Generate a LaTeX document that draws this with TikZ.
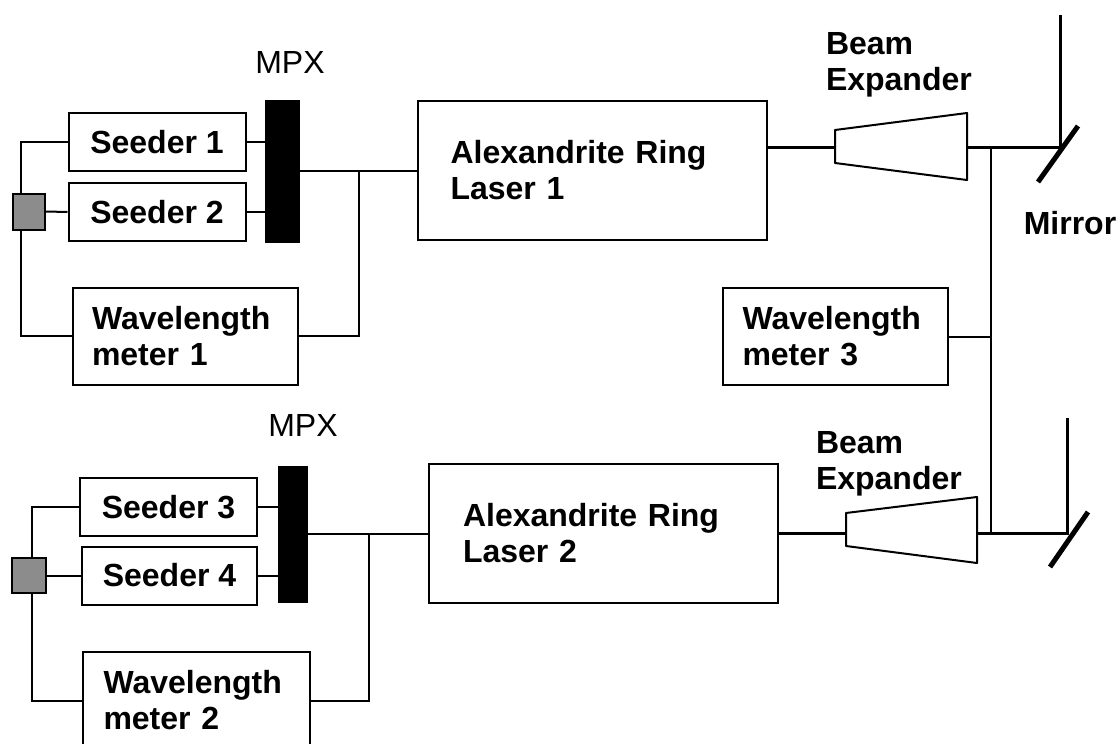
\documentclass[tikz,border=0pt]{standalone}
\usepackage{fontspec}
\setmainfont{Liberation Sans}
\begin{document}
\begin{tikzpicture}[x=1pt,y=-1pt,line width=2pt,
 font=\fontsize{32}{36}\selectfont\bfseries,
 unit/.style={draw,inner sep=0pt},
 seeder/.style={unit,minimum width=177pt,minimum height=58pt},
 meter/.style={unit,minimum width=225pt,minimum height=97pt,text width=186pt,align=left},
 laser/.style={unit,minimum width=349pt,minimum height=139pt,text width=284pt,align=left},
 mpxbar/.style={draw,fill=black,inner sep=0pt},
 coupler/.style={draw,fill=black!45,minimum width=32pt,minimum height=36pt,inner sep=0pt},
 beam/.style={line width=3pt},
 mirror/.style={line width=5pt}]
 \clip (0,0) rectangle (1117,744);
 % first laser line
 \node[seeder] (seed1) at (157,142) {Seeder 1};
 \node[seeder] (seed2) at (157,212) {Seeder 2};
 \node[mpxbar,minimum width=33pt,minimum height=141pt] (mpx1) at (282.5,171.5) {};
 \node[coupler] (sq1) at (29,211.5) {};
 \node[meter] (wm1) at (185,336) {Wavelength\\meter 1};
 \node[laser] (las1) at (592.5,170.5) {Alexandrite Ring\\Laser 1};
 \node[meter] (wm3) at (835.5,336.5) {Wavelength\\meter 3};
 % second laser line
 \node[seeder] (seed3) at (168.5,507) {Seeder 3};
 \node[seeder,minimum width=175pt] (seed4) at (169.5,575.5) {Seeder 4};
 \node[mpxbar,minimum width=28pt,minimum height=135pt] (mpx2) at (293,534.5) {};
 \node[coupler,minimum width=34pt,minimum height=35pt] (sq2) at (29,575.5) {};
 \node[meter,minimum width=227pt] (wm2) at (196.5,700.5) {Wavelength\\meter 2};
 \node[laser,text width=280pt] (las2) at (603,533.5) {Alexandrite Ring\\Laser 2};
 % labels
 \node[font=\fontsize{32}{36}\selectfont] (mpxlab1) at (290,62) {MPX};
 \node[font=\fontsize{32}{36}\selectfont] (mpxlab2) at (303,425) {MPX};
 \node[anchor=west,align=left,inner sep=0pt] (belab1) at (825,65) {Beam\\Expander};
 \node[anchor=west,align=left,inner sep=0pt] (belab2) at (815,464) {Beam\\Expander};
 \node (mirlab) at (1070,223) {Mirror};
 \coordinate (trunk1) at (21,0); \coordinate (trunk2) at (32,0);
 \coordinate (tap1) at (359,0); \coordinate (tap2) at (369,0);
 \coordinate (split) at (991,0);
 \coordinate (be1in) at (835,147); \coordinate (be1out) at (967,147);
 \coordinate (be2in) at (846,533); \coordinate (be2out) at (977,533);
 \coordinate (m1) at (1060,147); \coordinate (m2) at (1067,533);
 % fibres
 \draw (seed1.west) -| (sq1.north -| trunk1);
 \draw (sq1.south -| trunk1) |- (wm1.west);
 \draw (sq1.east) -- (seed2.west);
 \draw (seed1.east) -- (seed1.east -| mpx1.west);
 \draw (seed2.east) -- (seed2.east -| mpx1.west);
 \draw (mpx1.east |- las1.west) -- (las1.west);
 \draw (tap1 |- las1.west) |- (wm1.east);
 \draw (seed3.west) -| (sq2.north -| trunk2);
 \draw (sq2.south -| trunk2) |- (wm2.west);
 \draw (sq2.east) -- (seed4.west);
 \draw (seed3.east) -- (seed3.east -| mpx2.west);
 \draw (seed4.east) -- (seed4.east -| mpx2.west);
 \draw (mpx2.east |- las2.west) -- (las2.west);
 \draw (tap2 |- las2.west) |- (wm2.east);
 % beams
 \draw[beam] (las1.east |- be1in) -- (be1in);
 \draw[shift={(be1in)},line join=round] (0,-17) -- (132,-34) -- (132,33) -- (0,16) -- cycle;
 \draw[beam] (be1out) -- (m1) -- ++(0,-132);
 \draw[mirror] (m1) ++(-22,35) -- ++(40,-56);
 \draw[beam] (las2.east |- be2in) -- (be2in);
 \draw[shift={(be2in)},line join=round] (0,-20) -- (131,-36) -- (131,30) -- (0,13) -- cycle;
 \draw[beam] (be2out) -- (m2) -- ++(0,-115);
 \draw[mirror] (m2) ++(-17,34) -- ++(38,-55);
 \draw[line width=2.5pt] (split |- m1) -- (split |- m2);
 \draw (wm3.east) -- (wm3.east -| split);
\end{tikzpicture}
\end{document}
